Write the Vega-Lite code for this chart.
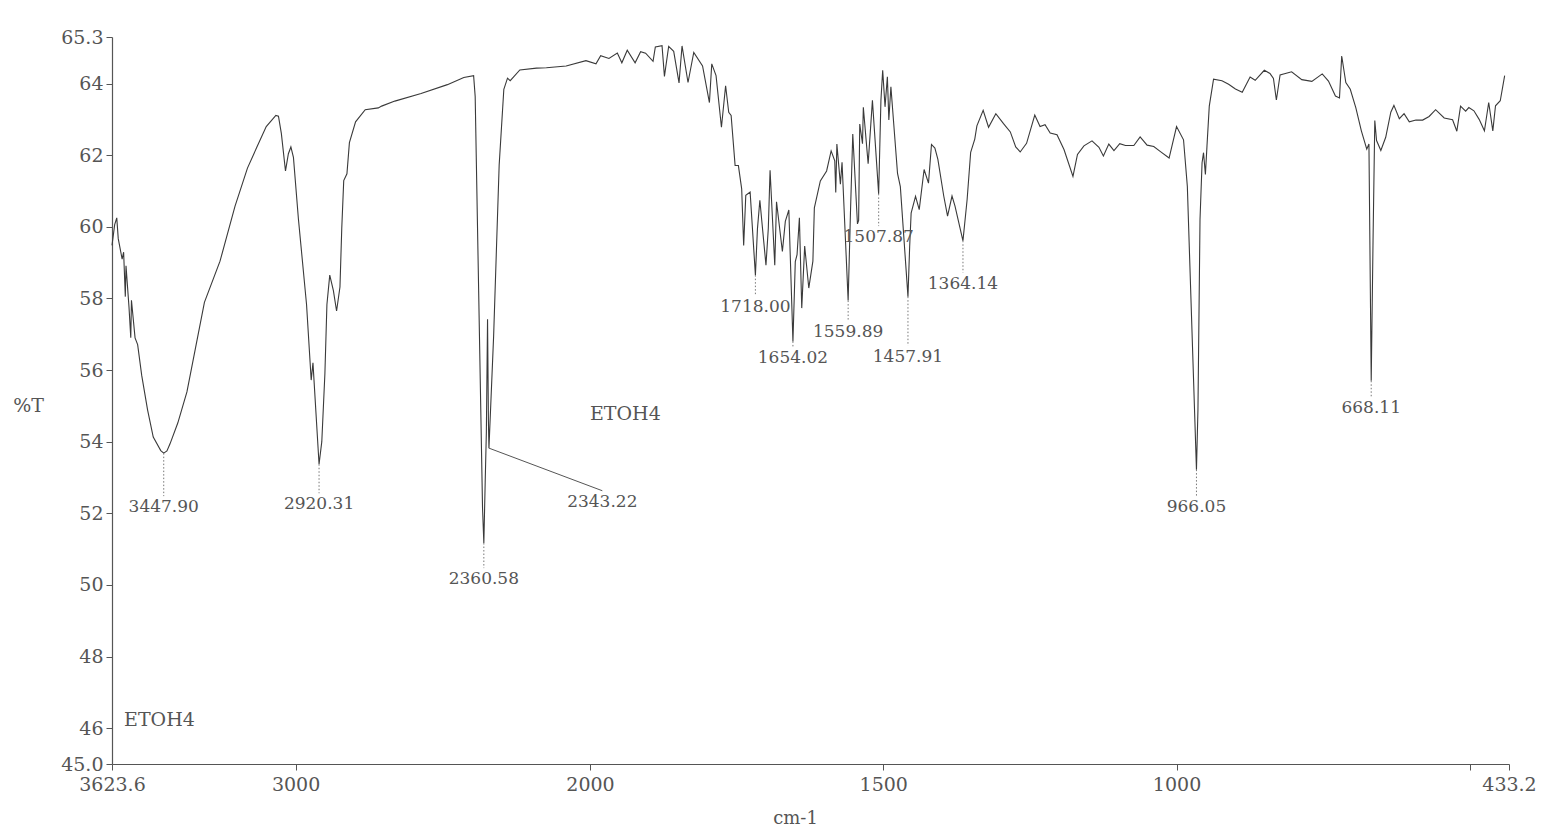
{
  "$schema": "https://vega.github.io/schema/vega-lite/v6.json",
  "autosize": {"type": "none"},
  "padding": {"left": 112, "top": 37, "right": 32, "bottom": 68},
  "width": 1397,
  "height": 727,
  "background": "white",
  "config": {"view": {"stroke": null}, "font": "DejaVu Serif"},
  "datasets": {
    "spectrum": [
      {"wn":3623.6,"t":59.48},{"wn":3614.5,"t":60.06},{"wn":3607.4,"t":60.25},{"wn":3602.4,"t":59.67},{"wn":3589.2,"t":59.10},{"wn":3584.1,"t":59.29},{"wn":3578.4,"t":58.05},{"wn":3576.0,"t":58.91},{"wn":3565.9,"t":57.76},{"wn":3559.8,"t":56.90},{"wn":3557.5,"t":57.95},{"wn":3545.3,"t":56.90},{"wn":3536.5,"t":56.71},{"wn":3522.7,"t":55.85},{"wn":3502.8,"t":54.89},{"wn":3483.5,"t":54.13},{"wn":3458.0,"t":53.75},{"wn":3447.9,"t":53.68},{"wn":3437.0,"t":53.74},{"wn":3426.5,"t":53.94},{"wn":3400.2,"t":54.52},{"wn":3369.1,"t":55.39},{"wn":3339.4,"t":56.64},{"wn":3309.7,"t":57.89},{"wn":3256.7,"t":59.04},{"wn":3205.7,"t":60.58},{"wn":3163.5,"t":61.64},{"wn":3131.8,"t":62.22},{"wn":3099.7,"t":62.80},{"wn":3067.0,"t":63.11},{"wn":3058.2,"t":63.09},{"wn":3048.4,"t":62.61},{"wn":3034.3,"t":61.56},{"wn":3024.5,"t":62.04},{"wn":3016.0,"t":62.23},{"wn":3007.3,"t":61.94},{"wn":2990.4,"t":60.22},{"wn":2962.8,"t":57.83},{"wn":2947.0,"t":55.72},{"wn":2941.0,"t":56.20},{"wn":2920.31,"t":53.37},{"wn":2911.0,"t":54.00},{"wn":2900.4,"t":55.91},{"wn":2893.6,"t":57.83},{"wn":2884.0,"t":58.65},{"wn":2871.6,"t":58.22},{"wn":2860.8,"t":57.65},{"wn":2849.3,"t":58.32},{"wn":2843.2,"t":59.95},{"wn":2836.5,"t":61.29},{"wn":2825.6,"t":61.48},{"wn":2817.2,"t":62.35},{"wn":2796.3,"t":62.93},{"wn":2763.5,"t":63.27},{"wn":2719.0,"t":63.32},{"wn":2707.8,"t":63.37},{"wn":2662.9,"t":63.51},{"wn":2573.8,"t":63.72},{"wn":2484.4,"t":63.97},{"wn":2428.7,"t":64.17},{"wn":2395.3,"t":64.22},{"wn":2390.0,"t":63.64},{"wn":2365.0,"t":52.14},{"wn":2360.58,"t":51.17},{"wn":2356.0,"t":52.87},{"wn":2352.0,"t":54.27},{"wn":2348.0,"t":57.42},{"wn":2345.0,"t":54.55},{"wn":2343.22,"t":53.82},{"wn":2327.4,"t":56.94},{"wn":2308.5,"t":61.73},{"wn":2292.7,"t":63.84},{"wn":2280.2,"t":64.15},{"wn":2271.0,"t":64.08},{"wn":2238.3,"t":64.38},{"wn":2181.9,"t":64.43},{"wn":2148.2,"t":64.44},{"wn":2081.0,"t":64.49},{"wn":2013.8,"t":64.64},{"wn":1989.8,"t":64.55},{"wn":1981.8,"t":64.78},{"wn":1967.7,"t":64.70},{"wn":1953.4,"t":64.85},{"wn":1945.7,"t":64.58},{"wn":1936.5,"t":64.93},{"wn":1923.1,"t":64.58},{"wn":1913.7,"t":64.89},{"wn":1905.2,"t":64.85},{"wn":1892.5,"t":64.62},{"wn":1888.6,"t":65.02},{"wn":1877.2,"t":65.06},{"wn":1873.1,"t":64.20},{"wn":1865.9,"t":65.04},{"wn":1857.3,"t":64.90},{"wn":1848.2,"t":64.02},{"wn":1843.1,"t":65.05},{"wn":1832.9,"t":64.03},{"wn":1823.1,"t":64.87},{"wn":1808.1,"t":64.49},{"wn":1796.4,"t":63.47},{"wn":1792.4,"t":64.55},{"wn":1785.1,"t":64.22},{"wn":1775.9,"t":62.78},{"wn":1768.8,"t":63.94},{"wn":1763.5,"t":63.20},{"wn":1759.4,"t":63.11},{"wn":1752.6,"t":61.71},{"wn":1747.0,"t":61.71},{"wn":1741.4,"t":61.06},{"wn":1738.0,"t":59.48},{"wn":1734.4,"t":60.88},{"wn":1727.0,"t":60.97},{"wn":1718.0,"t":58.65},{"wn":1714.5,"t":59.95},{"wn":1710.4,"t":60.74},{"wn":1700.0,"t":58.93},{"wn":1696.0,"t":59.96},{"wn":1693.0,"t":61.58},{"wn":1685.0,"t":58.93},{"wn":1682.0,"t":60.70},{"wn":1672.0,"t":59.31},{"wn":1667.0,"t":60.15},{"wn":1661.0,"t":60.47},{"wn":1654.02,"t":56.80},{"wn":1650.0,"t":59.03},{"wn":1647.0,"t":59.22},{"wn":1643.0,"t":60.25},{"wn":1639.0,"t":57.73},{"wn":1634.0,"t":59.46},{"wn":1627.0,"t":58.29},{"wn":1620.0,"t":59.04},{"wn":1617.5,"t":60.53},{"wn":1607.3,"t":61.28},{"wn":1596.6,"t":61.56},{"wn":1588.9,"t":62.12},{"wn":1582.7,"t":61.84},{"wn":1581.0,"t":60.96},{"wn":1579.1,"t":62.31},{"wn":1573.1,"t":61.19},{"wn":1570.3,"t":61.80},{"wn":1559.89,"t":57.94},{"wn":1556.0,"t":60.36},{"wn":1552.0,"t":62.59},{"wn":1544.0,"t":60.08},{"wn":1542.0,"t":60.18},{"wn":1540.1,"t":62.87},{"wn":1535.4,"t":62.32},{"wn":1534.0,"t":63.34},{"wn":1525.8,"t":61.76},{"wn":1518.5,"t":63.53},{"wn":1507.87,"t":60.92},{"wn":1504.0,"t":63.53},{"wn":1501.0,"t":64.37},{"wn":1497.0,"t":63.35},{"wn":1493.0,"t":64.19},{"wn":1490.5,"t":62.98},{"wn":1487.0,"t":63.91},{"wn":1475.7,"t":61.49},{"wn":1470.9,"t":61.12},{"wn":1457.91,"t":58.05},{"wn":1455.0,"t":59.45},{"wn":1452.5,"t":60.38},{"wn":1445.0,"t":60.85},{"wn":1438.7,"t":60.48},{"wn":1430.4,"t":61.60},{"wn":1422.9,"t":61.22},{"wn":1417.8,"t":62.30},{"wn":1412.0,"t":62.20},{"wn":1406.9,"t":61.88},{"wn":1396.9,"t":60.86},{"wn":1390.4,"t":60.30},{"wn":1382.8,"t":60.86},{"wn":1377.7,"t":60.58},{"wn":1364.14,"t":59.61},{"wn":1357.0,"t":60.77},{"wn":1351.0,"t":62.08},{"wn":1344.0,"t":62.45},{"wn":1340.4,"t":62.82},{"wn":1329.7,"t":63.25},{"wn":1320.5,"t":62.78},{"wn":1308.1,"t":63.16},{"wn":1295.0,"t":62.88},{"wn":1283.4,"t":62.65},{"wn":1274.2,"t":62.23},{"wn":1266.6,"t":62.09},{"wn":1255.7,"t":62.33},{"wn":1241.7,"t":63.12},{"wn":1232.7,"t":62.80},{"wn":1224.2,"t":62.85},{"wn":1215.4,"t":62.62},{"wn":1203.8,"t":62.57},{"wn":1191.9,"t":62.16},{"wn":1176.6,"t":61.41},{"wn":1168.9,"t":62.02},{"wn":1157.9,"t":62.26},{"wn":1144.1,"t":62.40},{"wn":1132.3,"t":62.22},{"wn":1124.7,"t":61.98},{"wn":1115.5,"t":62.31},{"wn":1106.7,"t":62.13},{"wn":1096.8,"t":62.32},{"wn":1087.1,"t":62.27},{"wn":1072.8,"t":62.27},{"wn":1062.1,"t":62.51},{"wn":1050.2,"t":62.28},{"wn":1038.8,"t":62.24},{"wn":1027.4,"t":62.10},{"wn":1012.7,"t":61.92},{"wn":1000.0,"t":62.80},{"wn":988.1,"t":62.43},{"wn":981.6,"t":61.13},{"wn":968.8,"t":54.61},{"wn":966.05,"t":53.22},{"wn":963.5,"t":54.90},{"wn":960.0,"t":60.20},{"wn":956.5,"t":61.79},{"wn":954.0,"t":62.07},{"wn":950.8,"t":61.46},{"wn":948.1,"t":62.26},{"wn":944.2,"t":63.37},{"wn":936.9,"t":64.12},{"wn":922.6,"t":64.08},{"wn":911.2,"t":63.98},{"wn":899.6,"t":63.85},{"wn":888.0,"t":63.76},{"wn":874.6,"t":64.18},{"wn":865.9,"t":64.09},{"wn":850.4,"t":64.37},{"wn":840.7,"t":64.28},{"wn":834.8,"t":64.14},{"wn":829.8,"t":63.54},{"wn":823.5,"t":64.24},{"wn":803.8,"t":64.33},{"wn":786.5,"t":64.11},{"wn":769.3,"t":64.06},{"wn":751.6,"t":64.27},{"wn":741.0,"t":64.07},{"wn":729.1,"t":63.65},{"wn":722.2,"t":63.60},{"wn":718.4,"t":64.77},{"wn":711.4,"t":64.03},{"wn":703.8,"t":63.84},{"wn":694.4,"t":63.33},{"wn":684.9,"t":62.68},{"wn":675.7,"t":62.17},{"wn":672.0,"t":62.31},{"wn":668.11,"t":55.70},{"wn":665.0,"t":59.61},{"wn":662.0,"t":62.97},{"wn":659.0,"t":62.41},{"wn":651.7,"t":62.13},{"wn":643.4,"t":62.50},{"wn":634.7,"t":63.20},{"wn":629.4,"t":63.39},{"wn":620.2,"t":63.02},{"wn":612.1,"t":63.16},{"wn":603.2,"t":62.93},{"wn":591.8,"t":62.98},{"wn":580.4,"t":62.98},{"wn":569.4,"t":63.08},{"wn":558.3,"t":63.27},{"wn":543.7,"t":63.04},{"wn":529.4,"t":62.99},{"wn":522.1,"t":62.67},{"wn":515.8,"t":63.37},{"wn":507.1,"t":63.23},{"wn":501.7,"t":63.33},{"wn":493.0,"t":63.24},{"wn":484.1,"t":63.00},{"wn":475.1,"t":62.68},{"wn":467.8,"t":63.47},{"wn":460.8,"t":62.68},{"wn":456.2,"t":63.38},{"wn":448.1,"t":63.52},{"wn":440.6,"t":64.22}
    ],
    "peaks": [
      {"wn":3447.9,"peakT":53.68,"labelT":52.48,"text":"3447.90"},
      {"wn":2920.31,"peakT":53.37,"labelT":52.56,"text":"2920.31"},
      {"wn":2360.58,"peakT":51.17,"labelT":50.47,"text":"2360.58"},
      {"wn":1718.0,"peakT":58.65,"labelT":58.08,"text":"1718.00"},
      {"wn":1654.02,"peakT":56.8,"labelT":56.64,"text":"1654.02"},
      {"wn":1559.89,"peakT":57.94,"labelT":57.36,"text":"1559.89"},
      {"wn":1507.87,"peakT":60.92,"labelT":60.02,"text":"1507.87"},
      {"wn":1457.91,"peakT":58.05,"labelT":56.68,"text":"1457.91"},
      {"wn":1364.14,"peakT":59.61,"labelT":58.72,"text":"1364.14"},
      {"wn":966.05,"peakT":53.22,"labelT":52.49,"text":"966.05"},
      {"wn":668.11,"peakT":55.7,"labelT":55.25,"text":"668.11"}
    ],
    "leader": [
      {"wn":2343.22,"t":53.82,"wn2":1979,"t2":52.63,"text":"2343.22"}
    ],
    "notes": [
      {"wn":2000,"t":54.77,"text":"ETOH4"},
      {"wn":3582.8,"t":46.22,"text":"ETOH4"}
    ]
  },
  "layer": [
    {
      "data": {"name": "spectrum"},
      "mark": {"type": "line", "stroke": "#3a3a3a", "strokeWidth": 1.1},
      "encoding": {
        "x": {
          "field": "wn", "type": "quantitative",
          "scale": {"domain": [3623.6, 2000, 433.2], "range": [0, 478, 1397], "nice": false, "zero": false},
          "axis": {
            "values": [3623.6, 3000, 2000, 1500, 1000, 500, 433.2],
            "labelExpr": "datum.value == 500 ? '' : ((datum.value == 3623.6 || datum.value == 433.2) ? format(datum.value, '.1f') : format(datum.value, 'd'))",
            "grid": false, "tickSize": 6, "tickColor": "#555", "domainColor": "#555", "domainWidth": 1.2,
            "labelFont": "DejaVu Serif", "labelFontSize": 19, "labelColor": "#555", "labelPadding": 5,
            "labelFlush": false, "labelOverlap": false, "labelBound": false,
            "title": "cm-1", "titleFont": "DejaVu Serif", "titleFontSize": 18, "titleFontWeight": "normal", "titleColor": "#555",
            "titleX": 683, "titleY": 54, "titleAlign": "center", "titleBaseline": "middle"
          }
        },
        "y": {
          "field": "t", "type": "quantitative",
          "scale": {"domain": [45, 65.3], "nice": false, "zero": false},
          "axis": {
            "values": [45, 46, 48, 50, 52, 54, 56, 58, 60, 62, 64, 65.3],
            "labelExpr": "(datum.value == 45 || datum.value == 65.3) ? format(datum.value, '.1f') : format(datum.value, 'd')",
            "grid": false, "tickSize": 6, "tickColor": "#555", "domainColor": "#555", "domainWidth": 1.2,
            "labelFont": "DejaVu Serif", "labelFontSize": 19, "labelColor": "#555", "labelPadding": 3,
            "labelFlush": false, "labelOverlap": false, "labelBound": false,
            "title": "%T", "titleFont": "DejaVu Serif", "titleFontSize": 19, "titleFontWeight": "normal", "titleColor": "#555",
            "titleAngle": 0, "titleX": -84, "titleY": 368, "titleAlign": "center", "titleBaseline": "middle"
          }
        }
      }
    },
    {
      "data": {"name": "peaks"},
      "mark": {"type": "rule", "stroke": "#777", "strokeWidth": 1, "strokeDash": [1.5, 2]},
      "encoding": {
        "x": {"field": "wn", "type": "quantitative"},
        "y": {"field": "peakT", "type": "quantitative"},
        "y2": {"field": "labelT"}
      }
    },
    {
      "data": {"name": "peaks"},
      "mark": {"type": "text", "align": "center", "baseline": "top", "dy": 3, "font": "DejaVu Serif", "fontSize": 17, "fill": "#555"},
      "encoding": {
        "x": {"field": "wn", "type": "quantitative"},
        "y": {"field": "labelT", "type": "quantitative"},
        "text": {"field": "text"}
      }
    },
    {
      "data": {"name": "leader"},
      "mark": {"type": "rule", "stroke": "#555", "strokeWidth": 1},
      "encoding": {
        "x": {"field": "wn", "type": "quantitative"},
        "x2": {"field": "wn2"},
        "y": {"field": "t", "type": "quantitative"},
        "y2": {"field": "t2"}
      }
    },
    {
      "data": {"name": "leader"},
      "mark": {"type": "text", "align": "center", "baseline": "top", "dy": 3, "font": "DejaVu Serif", "fontSize": 17, "fill": "#555"},
      "encoding": {
        "x": {"field": "wn2", "type": "quantitative"},
        "y": {"field": "t2", "type": "quantitative"},
        "text": {"field": "text"}
      }
    },
    {
      "data": {"name": "notes"},
      "mark": {"type": "text", "align": "left", "baseline": "middle", "font": "DejaVu Serif", "fontSize": 19, "fill": "#555"},
      "encoding": {
        "x": {"field": "wn", "type": "quantitative"},
        "y": {"field": "t", "type": "quantitative"},
        "text": {"field": "text"}
      }
    }
  ]
}
